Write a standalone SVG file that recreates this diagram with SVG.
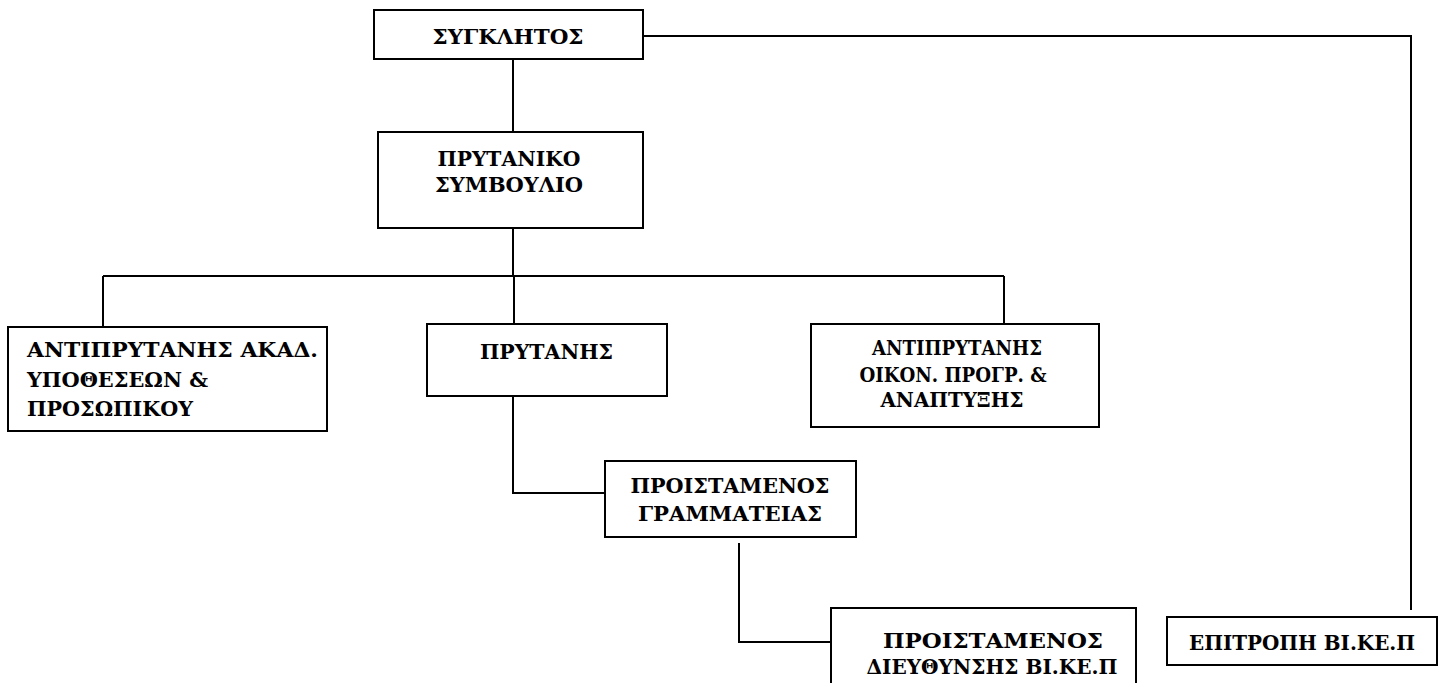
<svg xmlns="http://www.w3.org/2000/svg" width="1445" height="683" viewBox="0 0 1445 683">
<style>
.box{fill:#fff;stroke:#000;stroke-width:2}
.c{fill:none;stroke:#000;stroke-width:2}
text{font-family:'DejaVu Serif',serif;font-weight:bold;font-size:20px;fill:#000}
.m{text-anchor:middle}
.l{font-size:21px}
</style>
<rect width="1445" height="683" fill="#fff"/>
<g id="connectors">
<path class="c" d="M513,59 V132"/>
<path class="c" d="M513,228 V276"/>
<path class="c" d="M103,276 H1004"/>
<path class="c" d="M103,276 V327"/>
<path class="c" d="M514,276 V324"/>
<path class="c" d="M1004,276 V324"/>
<path class="c" d="M513,396 V493 H605"/>
<path class="c" d="M739,543 V642 H831"/>
<path class="c" d="M643,36 H1411 V610"/>
</g>
<g id="synklitos">
<rect class="box" x="374" y="10" width="269" height="49"/>
<text class="m" x="508" y="44" textLength="151" lengthAdjust="spacingAndGlyphs">ΣΥΓΚΛΗΤΟΣ</text>
</g>
<g id="prytaniko">
<rect class="box" x="378" y="132" width="265" height="96"/>
<text class="m" x="509" y="166" textLength="143" lengthAdjust="spacingAndGlyphs">ΠΡΥΤΑΝΙΚΟ</text>
<text class="m" x="509" y="192" textLength="148" lengthAdjust="spacingAndGlyphs">ΣΥΜΒΟΥΛΙΟ</text>
</g>
<g id="antiprytanis-akad">
<rect class="box" x="8" y="327" width="319" height="104"/>
<text x="27" y="357" textLength="291" lengthAdjust="spacingAndGlyphs">ΑΝΤΙΠΡΥΤΑΝΗΣ ΑΚΑΔ.</text>
<text x="27" y="387" textLength="181" lengthAdjust="spacingAndGlyphs">ΥΠΟΘΕΣΕΩΝ &amp;</text>
<text x="27" y="416" textLength="166" lengthAdjust="spacingAndGlyphs">ΠΡΟΣΩΠΙΚΟΥ</text>
</g>
<g id="prytanis">
<rect class="box" x="427" y="324" width="240" height="72"/>
<text x="480" y="359" textLength="133" lengthAdjust="spacingAndGlyphs">ΠΡΥΤΑΝΗΣ</text>
</g>
<g id="antiprytanis-oikon">
<rect class="box" x="811" y="324" width="288" height="103"/>
<text class="m" x="957" y="355" textLength="170" lengthAdjust="spacingAndGlyphs">ΑΝΤΙΠΡΥΤΑΝΗΣ</text>
<text class="m" x="953" y="382" textLength="187" lengthAdjust="spacingAndGlyphs">ΟΙΚΟΝ. ΠΡΟΓΡ. &amp;</text>
<text class="m" x="952" y="407" textLength="143" lengthAdjust="spacingAndGlyphs">ΑΝΑΠΤΥΞΗΣ</text>
</g>
<g id="proistamenos-grammateias">
<rect class="box" x="605" y="461" width="251" height="76"/>
<text class="m" x="730" y="493" textLength="199" lengthAdjust="spacingAndGlyphs">ΠΡΟΙΣΤΑΜΕΝΟΣ</text>
<text class="m" x="730" y="521" textLength="184" lengthAdjust="spacingAndGlyphs">ΓΡΑΜΜΑΤΕΙΑΣ</text>
</g>
<g id="proistamenos-dieythynsis">
<rect class="box" x="831" y="608" width="305" height="100"/>
<text class="m l" x="993" y="648" textLength="220" lengthAdjust="spacingAndGlyphs">ΠΡΟΙΣΤΑΜΕΝΟΣ</text>
<text class="m l" x="992" y="674" textLength="251" lengthAdjust="spacingAndGlyphs">ΔΙΕΥΘΥΝΣΗΣ ΒΙ.ΚΕ.Π</text>
</g>
<g id="epitropi">
<rect class="box" x="1167" y="617" width="270" height="48"/>
<text class="m" x="1302" y="650" textLength="226" lengthAdjust="spacingAndGlyphs">ΕΠΙΤΡΟΠΗ ΒΙ.ΚΕ.Π</text>
</g>
</svg>
